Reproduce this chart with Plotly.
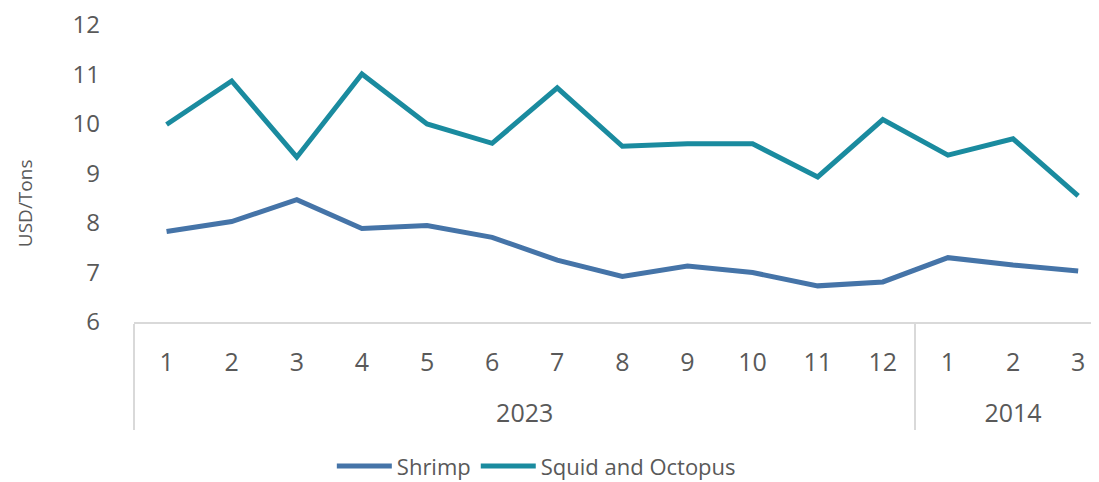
import plotly.graph_objects as go

years = ["2023"] * 12 + ["2014"] * 3
months = ["1", "2", "3", "4", "5", "6", "7", "8", "9", "10", "11", "12", "1", "2", "3"]
shrimp = [7.83, 8.03, 8.47, 7.89, 7.95, 7.71, 7.25, 6.92, 7.13, 7.00, 6.73, 6.81, 7.30, 7.15, 7.03]
squid = [9.99, 10.87, 9.33, 11.01, 10.00, 9.61, 10.73, 9.55, 9.60, 9.60, 8.93, 10.09, 9.37, 9.70, 8.55]
y_title = "USD/Tons"

font_family = "Open Sans, Lato, sans-serif"
grey = "#595959"

year_labels = ["<br>" + y for y in years]

fig = go.Figure()
fig.add_trace(go.Scatter(x=[year_labels, months], y=shrimp, name="Shrimp", mode="lines",
                         line=dict(color="#4574a8", width=5)))
fig.add_trace(go.Scatter(x=[year_labels, months], y=squid, name="Squid and Octopus", mode="lines",
                         line=dict(color="#1a8b9f", width=5)))

fig.add_annotation(text=y_title, xref="paper", yref="paper", x=-0.113, y=0.40,
                   xanchor="center", yanchor="middle", textangle=-90, showarrow=False,
                   font=dict(size=19, color=grey))

fig.update_layout(
    width=1099, height=482,
    margin=dict(l=126, r=8, t=17, b=168, autoexpand=False),
    paper_bgcolor="white", plot_bgcolor="white",
    font=dict(family=font_family, color=grey),
    showlegend=True,
    legend=dict(orientation="h", x=0.205, xanchor="left", y=-0.415, yanchor="top",
                font=dict(size=22, color=grey), itemwidth=55, tracegroupgap=0),
    xaxis=dict(type="multicategory", range=[-0.5, 14.32], showgrid=False, automargin=False,
               showline=True, linecolor="#d9d9d9", linewidth=1.5,
               tickfont=dict(size=25, color=grey), ticklabelstandoff=17,
               showdividers=True, dividercolor="#d9d9d9", dividerwidth=1.5,
               ticks="", zeroline=False),
    yaxis=dict(range=[6, 12], dtick=1, showgrid=False, showline=False, zeroline=False,
               automargin=False, ticklabeloverflow="allow",
               tickfont=dict(size=24, color=grey), ticklabelstandoff=33),
)

fig.write_html("out.html")
